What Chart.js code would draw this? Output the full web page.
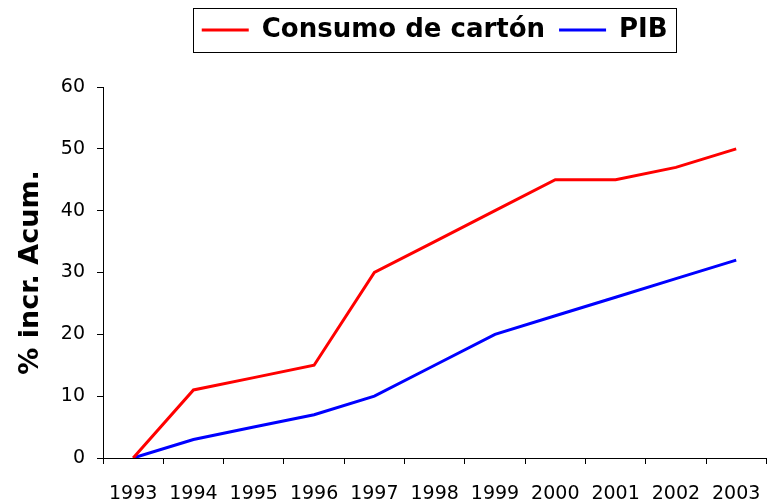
<!DOCTYPE html>
<html>
<head>
<meta charset="utf-8">
<script src="https://cdn.jsdelivr.net/npm/chart.js@4.4.1/dist/chart.umd.min.js"></script>
<style>
  html, body { margin: 0; padding: 0; background: #fff; }
  #wrap { width: 780px; height: 504px; position: relative; }
</style>
</head>
<body>
<div id="wrap"><canvas id="linechart"></canvas></div>
<script>
const years = ['1993', '1994', '1995', '1996', '1997', '1998', '1999', '2000', '2001', '2002', '2003']
const carton = [0, 11, 13, 15, 30, 35, 40, 45, 45, 47, 50]
const pib = [0, 3, 5, 7, 10, 15, 20, 23, 26, 29, 32]
const yTicks = [0, 10, 20, 30, 40, 50, 60]

Chart.defaults.font.family = 'DejaVu Sans'
Chart.defaults.color = '#000'

// legend height fixed and a thin frame drawn round it
const legendFrame = {
  id: 'legendFrame',
  afterInit(chart) {
    const lg = chart.legend
    const fit = lg.fit
    lg.fit = function () {
      fit.call(this)
      this.height = 84
    }
  },
  afterDraw(chart) {
    const boxes = chart.legend.legendHitBoxes
    if (!boxes || !boxes.length) return
    const first = boxes[0]
    const last = boxes[boxes.length - 1]
    const cy = first.top + first.height / 2
    const ctx = chart.ctx
    ctx.save()
    ctx.strokeStyle = '#000'
    ctx.lineWidth = 1
    ctx.strokeRect(Math.round(first.left - 9) + 0.5, Math.round(cy - 22) + 0.5,
      Math.round(last.left + last.width - first.left + 17), 44)
    ctx.restore()
  }
}

const ctx = document.getElementById('linechart')

new Chart(ctx, {
  type: 'line',
  data: {
    labels: years,
    datasets: [{
      label: 'Consumo de cartón',
      data: carton,
      borderColor: '#ff0000',
      backgroundColor: '#ff0000',
      borderWidth: 3,
      pointRadius: 0,
      tension: 0
    }, {
      label: 'PIB',
      data: pib,
      borderColor: '#0000ff',
      backgroundColor: '#0000ff',
      borderWidth: 3,
      pointRadius: 0,
      tension: 0
    }]
  },
  options: {
    responsive: true,
    maintainAspectRatio: false,
    animation: false,
    layout: { padding: { top: 3, right: 13, bottom: 0, left: 0 } },
    plugins: {
      tooltip: { enabled: false },
      legend: {
        position: 'top',
        fullSize: false,
        labels: {
          usePointStyle: true,
          pointStyle: 'line',
          pointStyleWidth: 47,
          boxHeight: 3,
          padding: 14,
          color: '#000',
          font: { size: 26, weight: 'bold' }
        }
      }
    },
    scales: {
      x: {
        offset: true,
        grid: {
          offset: true,
          drawOnChartArea: false,
          drawTicks: true,
          tickLength: 6,
          color: '#000'
        },
        border: { color: '#000', width: 1 },
        ticks: {
          maxRotation: 0,
          autoSkip: false,
          padding: 19,
          font: { size: 19 }
        },
        afterFit(axis) { axis.height = 46 }
      },
      y: {
        min: 0,
        max: 60,
        afterBuildTicks(axis) { axis.ticks = yTicks.map(v => ({ value: v })) },
        grid: {
          drawOnChartArea: false,
          drawTicks: true,
          tickLength: 6,
          color: '#000'
        },
        border: { color: '#000', width: 1 },
        ticks: {
          padding: 12,
          font: { size: 19 }
        },
        title: {
          display: true,
          text: '% incr. Acum.',
          color: '#000',
          padding: { top: 15, bottom: 0 },
          font: { size: 27, weight: 'bold' }
        },
        afterFit(axis) { axis.width = 103 }
      }
    }
  },
  plugins: [legendFrame]
})
</script>
</body>
</html>
